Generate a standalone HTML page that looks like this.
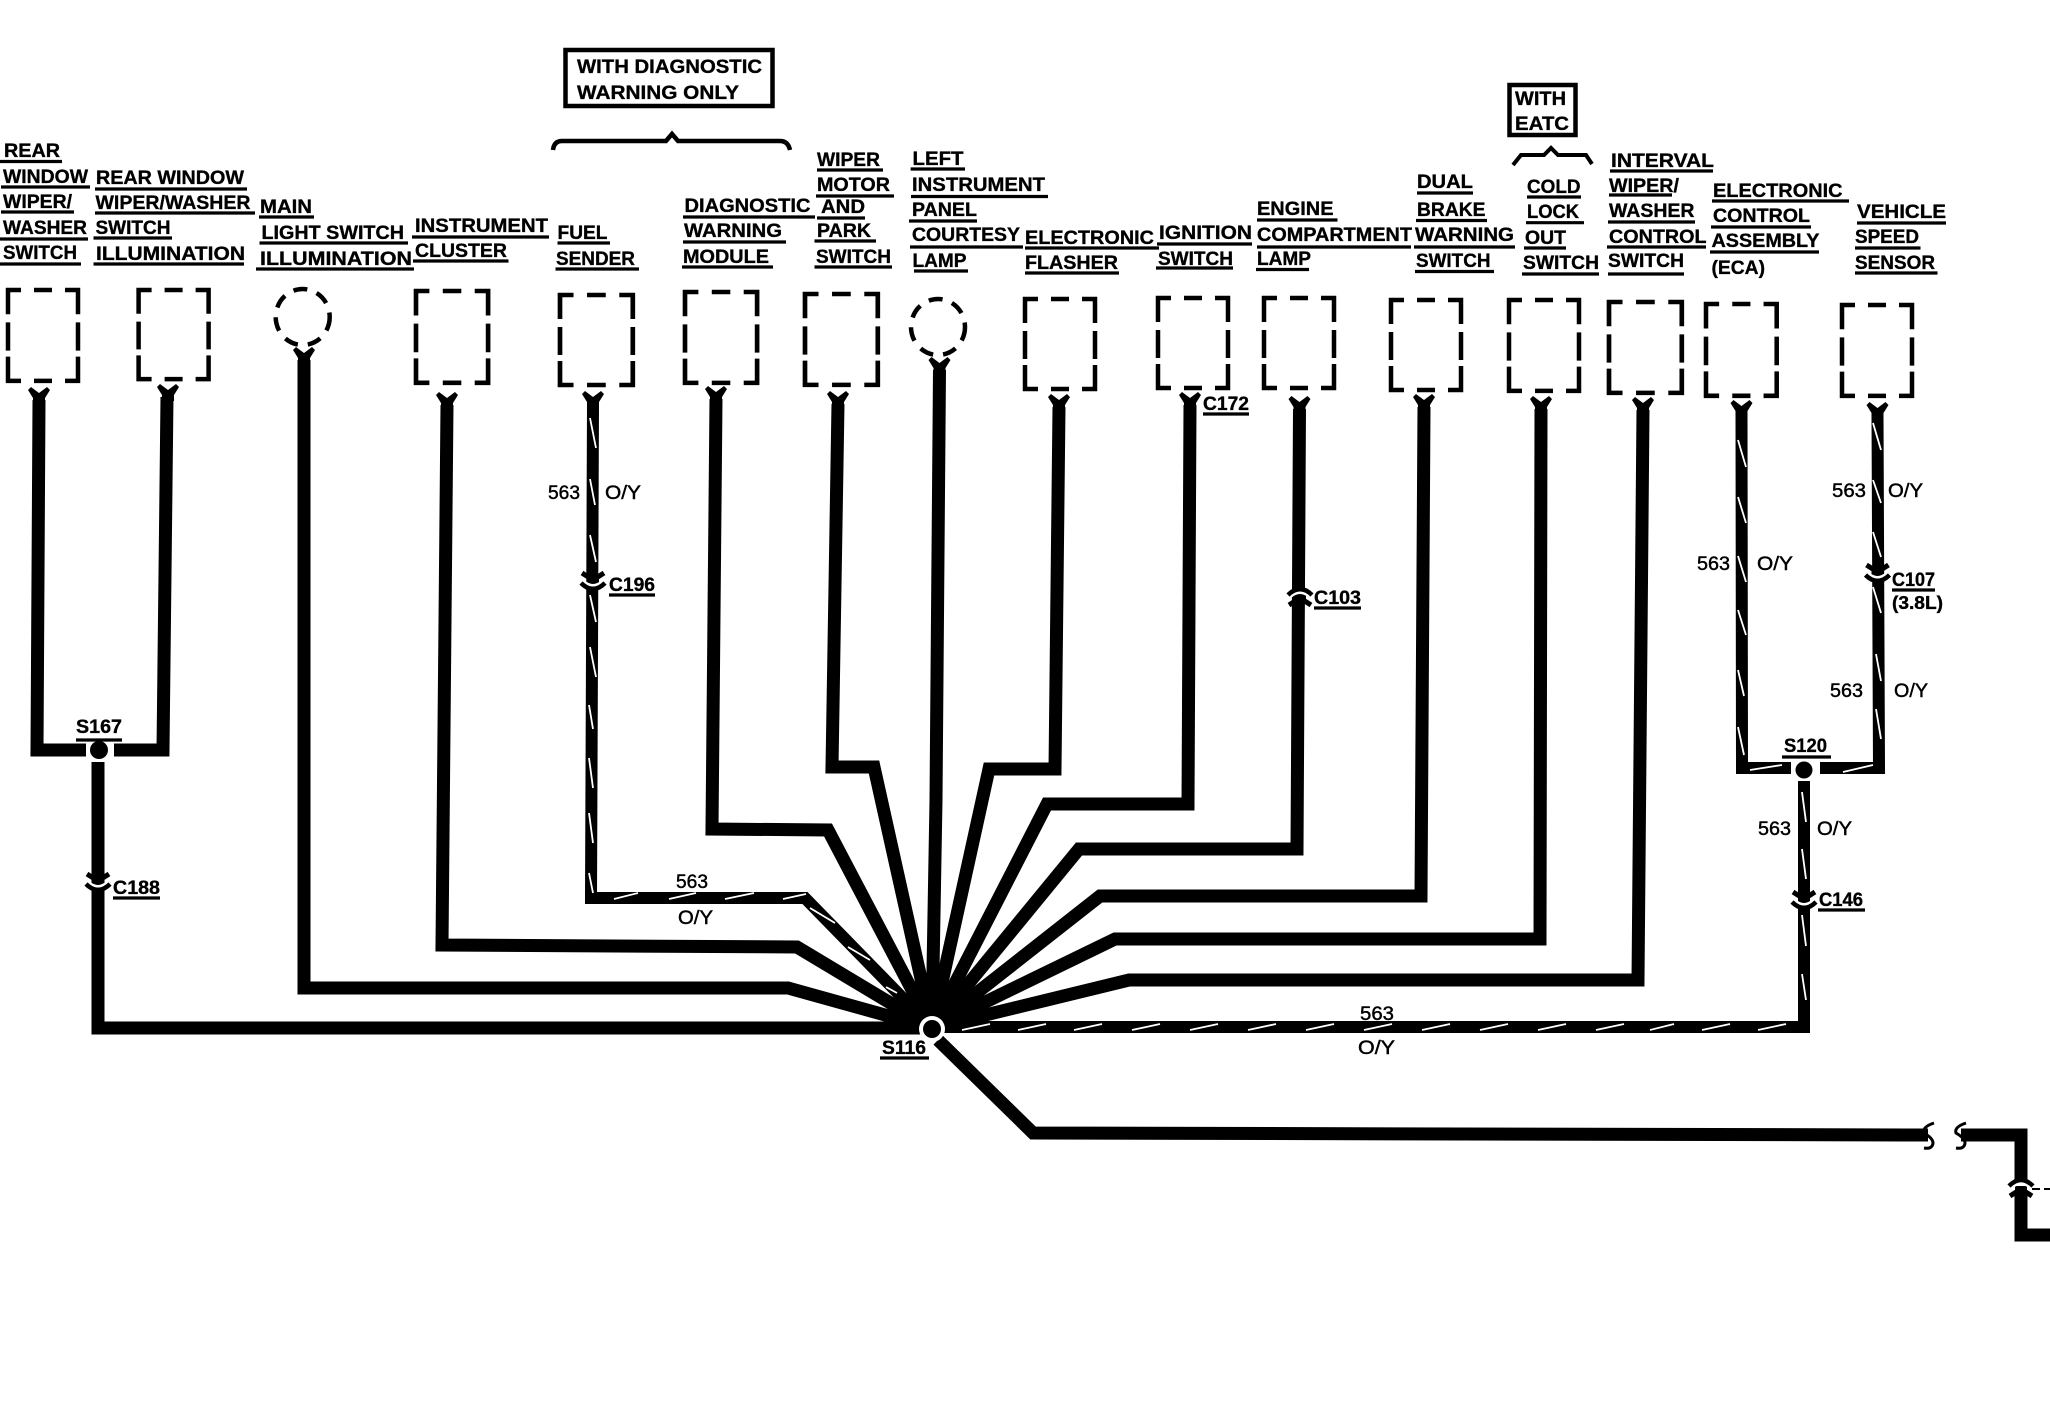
<!DOCTYPE html>
<html><head><meta charset="utf-8"><style>
html,body{margin:0;padding:0;background:#fff}
svg{display:block}
text{font-family:"Liberation Sans",sans-serif;font-weight:bold;font-size:19.5px;fill:#000;stroke:#000;stroke-width:.35px}
.r{font-weight:normal;font-size:19px;stroke:#000;stroke-width:.45px}
</style></head><body>
<svg width="2050" height="1408" viewBox="0 0 2050 1408" xmlns="http://www.w3.org/2000/svg">
<defs>
<path id="bx" d="M0 24V0H13M26 0H44M57 0H70V24M0 32V60M70 32V60M0 66V90H13M26 90H44M57 90H70V66" fill="none" stroke="#000" stroke-width="4.5"/>
<path id="yy" d="M-11 2L-8 -1L0 5L8 -1L11 2L6 10V16H-6V10Z" fill="#000"/>
<g id="cn"><path d="M-11 -10L0 -3L11 -10" fill="none" stroke="#000" stroke-width="5"/><path d="M-6 -4H6V0H-6Z" fill="#000"/><path d="M-9 -1.5Q0 6 9 -1.5" fill="none" stroke="#fff" stroke-width="2.5"/><path d="M-12 0Q0 12 12 0" fill="none" stroke="#000" stroke-width="4.5"/></g>
</defs>

<!-- dashed component boxes -->
<use href="#bx" transform="translate(8,290) scale(1,1.01)"/>
<use href="#bx" transform="translate(138.6,290) scale(1,.99)"/>
<ellipse cx="302.7" cy="317" rx="27" ry="28" fill="none" stroke="#000" stroke-width="4.5" stroke-dasharray="14 10"/>
<use href="#bx" transform="translate(416,291) scale(1.03,1.02)"/>
<use href="#bx" transform="translate(560,295) scale(1.04,1)"/>
<use href="#bx" transform="translate(685,292) scale(1.03,1.01)"/>
<use href="#bx" transform="translate(805,294) scale(1.04,1.01)"/>
<ellipse cx="938" cy="327" rx="27" ry="28" fill="none" stroke="#000" stroke-width="4.5" stroke-dasharray="14 10"/>
<use href="#bx" transform="translate(1025,299) scale(1,1)"/>
<use href="#bx" transform="translate(1158,298)"/>
<use href="#bx" transform="translate(1264,298)"/>
<use href="#bx" transform="translate(1391,300)"/>
<use href="#bx" transform="translate(1509,300) scale(1,1.01)"/>
<use href="#bx" transform="translate(1609,302) scale(1.04,1.01)"/>
<use href="#bx" transform="translate(1706,304) scale(1.01,1.02)"/>
<use href="#bx" transform="translate(1842,305) scale(1,1.01)"/>

<!-- Y connectors -->
<use href="#yy" x="39" y="388"/><use href="#yy" x="168" y="385"/><use href="#yy" x="304" y="348"/>
<use href="#yy" x="447" y="393"/><use href="#yy" x="593" y="392"/><use href="#yy" x="716" y="387"/>
<use href="#yy" x="838" y="392"/><use href="#yy" x="939.5" y="358"/><use href="#yy" x="1059" y="395"/>
<use href="#yy" x="1190" y="393"/><use href="#yy" x="1299.5" y="397"/><use href="#yy" x="1424" y="395"/>
<use href="#yy" x="1541" y="397"/><use href="#yy" x="1643" y="398"/><use href="#yy" x="1741.5" y="401"/>
<use href="#yy" x="1877.5" y="403"/>

<!-- wires -->
<g fill="none" stroke="#000" stroke-width="13" stroke-linejoin="miter">
<path d="M39 400L37 750H86"/>
<path d="M114 750H163L167 397"/>
<path d="M98 762V1028H932"/>
<path d="M304 360V988H788L932 1028"/>
<path d="M447 405L442 945L797 947L932 1028"/>
<path d="M716 399L712 829L828 830L932 1028"/>
<path d="M838 404L832 767H874L932 1028"/>
<path d="M939.5 370L936 800L932 1028"/>
<path d="M1059 407L1055 769H989L932 1028"/>
<path d="M1190 405L1188 804H1047L932 1028"/>
<path d="M1299.5 409L1297 849H1079L932 1028"/>
<path d="M1424 407L1421 896H1100L932 1028"/>
<path d="M1541 409L1540 939H1115L932 1028"/>
<path d="M1643 410L1638 980H1129L932 1028"/>
<path d="M938 1040L1033 1133L1928 1135"/>
<path d="M1961 1135H2021V1180"/>
<path d="M2021 1192V1235H2050"/>
</g>
<g fill="none" stroke="#000" stroke-width="12" stroke-linejoin="miter">
<path d="M593 404L591 898H805L932 1028"/>
<path d="M932 1027H1804V781"/>
<path d="M1741.5 412L1742 768H1791"/>
<path d="M1820 768H1879L1877.5 415"/>
</g>

<!-- white tracer stripes -->
<g fill="none" stroke="#fff" stroke-width="1.8">
<path d="M614 899l24 -6M669 899l27 -6M725 899l29 -6M783 899l23 -5"/>
<path d="M810 908l25 15M848 947l22 13M886 987l11 6"/>
<path d="M962 1030l28 -6M1018 1030l28 -6M1074 1030l28 -6M1132 1030l28 -6M1190 1030l28 -6M1248 1030l28 -6M1306 1030l28 -6M1364 1030l28 -6M1422 1030l28 -6M1480 1030l28 -6M1538 1030l28 -6M1596 1030l28 -6M1650 1030l24 -6M1702 1030l28 -6M1758 1030l28 -6"/>
<path d="M1750 770l32 -5M1843 772l30 -7"/>
<path d="M590 418l6 30M590 479l5 26M590 535l6 27M590 595l6 27M590 647l6 30M589 705l4 24M589 758l4 30M589 813l4 30M589 873l4 20"/>
<path d="M1738 440l8 27M1738 497l8 26M1738 556l8 26M1738 610l8 25M1738 670l6 26M1738 727l6 28"/>
<path d="M1873 423l8 27M1873 480l8 23M1873 532l8 25M1873 587l8 26M1876 654l5 27M1876 709l5 30"/>
<path d="M1802 792l4 30M1802 849l4 30M1802 915l4 31M1802 974l4 26"/>
</g>

<!-- hub and splices -->
<circle cx="932" cy="1029" r="13" fill="#fff"/>
<circle cx="932" cy="1029" r="9" fill="#000"/>
<circle cx="99" cy="750" r="9" fill="#000"/>
<circle cx="1804" cy="770" r="8.5" fill="#000"/>

<!-- inline connectors -->
<use href="#cn" transform="translate(98,884)"/>
<use href="#cn" transform="translate(593,583)"/>
<use href="#cn" transform="translate(1300,595) scale(1,-1)"/>
<use href="#cn" transform="translate(1877.5,575)"/>
<use href="#cn" transform="translate(1804,902)"/>
<use href="#cn" transform="translate(2021,1186) scale(1,-1)"/>
<path d="M2032 1189H2040M2044 1189H2050" stroke="#000" stroke-width="2" fill="none"/>

<!-- break marks -->
<path d="M1934 1123Q1922 1127 1924 1133Q1936 1140 1932 1146Q1930 1149 1924 1148" fill="none" stroke="#000" stroke-width="3"/>
<path d="M1966 1123Q1954 1127 1956 1133Q1968 1140 1964 1146Q1962 1149 1956 1148" fill="none" stroke="#000" stroke-width="3"/>

<!-- qualifier boxes and braces -->
<rect x="565.5" y="50" width="207" height="56" fill="none" stroke="#000" stroke-width="4.5"/>
<rect x="1509.5" y="85" width="66" height="50" fill="none" stroke="#000" stroke-width="4.5"/>
<path d="M553 150Q554 141 562 141H666L672 134L678 141H780Q788 141 790 150" fill="none" stroke="#000" stroke-width="4.5"/>
<path d="M1513 165L1521 155H1544L1551 148L1558 155H1586L1592 164" fill="none" stroke="#000" stroke-width="4"/>

<!-- underlines -->
<path stroke="#000" stroke-width="3.2" fill="none" d="M0 161.5H62M1 187H90M1 212H74M0 239H88M0 264H81M95 189H247M95 213H255M93.5 238H172M93.5 264H244M259 217H314M259.5 243H408M256 269H414M412 237H549M413 261H508.5M557.5 243H610M555.5 269H639M683 217H815M683 242H786M682 267H773M817 170H883M816 196H894M817 218H865M814.5 241H876M814.5 267H892M910.6 169H965M911 196.5H1048M909 221H977M910 247H1023M914 271H968M1025 248H1159M1025 273H1119M1157 244H1252M1156 268H1233M1257 220H1337.5M1257 247H1411M1256 269.5H1309M1417 193H1473M1416 220.5H1487M1414 247H1515M1415 271.5H1494M1527 197H1581M1526 222.7H1584M1524 248H1566M1522 274H1599M1610 171H1713M1609 195H1672M1608 222H1695M1607 247H1706M1608 274H1684M1712 201H1849M1711 227H1811M1710 252H1819M1857 223H1946M1855 248H1920.5M1855 273H1937.5M76 740H122M609 595H655M1203 414H1249M1314 608H1361M1892 590H1935M880 1058H929M1782 757H1831M113 898H160M1818 910H1865"/>

<!-- labels -->
<text x="577" y="73" textLength="185" lengthAdjust="spacingAndGlyphs">WITH DIAGNOSTIC</text>
<text x="577" y="99" textLength="162" lengthAdjust="spacingAndGlyphs">WARNING ONLY</text>
<text x="1515" y="105" textLength="51" lengthAdjust="spacingAndGlyphs">WITH</text>
<text x="1515" y="130" textLength="54" lengthAdjust="spacingAndGlyphs">EATC</text>

<text x="4" y="157" textLength="56" lengthAdjust="spacingAndGlyphs">REAR</text>
<text x="3" y="183" textLength="85" lengthAdjust="spacingAndGlyphs">WINDOW</text>
<text x="3" y="208" textLength="69" lengthAdjust="spacingAndGlyphs">WIPER/</text>
<text x="3" y="234" textLength="84" lengthAdjust="spacingAndGlyphs">WASHER</text>
<text x="3" y="259" textLength="74" lengthAdjust="spacingAndGlyphs">SWITCH</text>
<text x="96" y="184" textLength="148" lengthAdjust="spacingAndGlyphs">REAR WINDOW</text>
<text x="95.5" y="209" textLength="155" lengthAdjust="spacingAndGlyphs">WIPER/WASHER</text>
<text x="95.5" y="234" textLength="75" lengthAdjust="spacingAndGlyphs">SWITCH</text>
<text x="96" y="260" textLength="149" lengthAdjust="spacingAndGlyphs">ILLUMINATION</text>
<text x="260" y="213" textLength="52" lengthAdjust="spacingAndGlyphs">MAIN</text>
<text x="261.5" y="239" textLength="142.5" lengthAdjust="spacingAndGlyphs">LIGHT SWITCH</text>
<text x="260" y="265" textLength="152" lengthAdjust="spacingAndGlyphs">ILLUMINATION</text>
<text x="415" y="232" textLength="133" lengthAdjust="spacingAndGlyphs">INSTRUMENT</text>
<text x="415" y="257" textLength="92" lengthAdjust="spacingAndGlyphs">CLUSTER</text>
<text x="557.5" y="239" textLength="50" lengthAdjust="spacingAndGlyphs">FUEL</text>
<text x="556" y="265" textLength="79" lengthAdjust="spacingAndGlyphs">SENDER</text>
<text x="684.5" y="212" textLength="126" lengthAdjust="spacingAndGlyphs">DIAGNOSTIC</text>
<text x="684" y="237" textLength="98" lengthAdjust="spacingAndGlyphs">WARNING</text>
<text x="683" y="263" textLength="86" lengthAdjust="spacingAndGlyphs">MODULE</text>
<text x="817" y="166" textLength="63" lengthAdjust="spacingAndGlyphs">WIPER</text>
<text x="817" y="191" textLength="73" lengthAdjust="spacingAndGlyphs">MOTOR</text>
<text x="821" y="213" textLength="44" lengthAdjust="spacingAndGlyphs">AND</text>
<text x="817" y="237" textLength="54" lengthAdjust="spacingAndGlyphs">PARK</text>
<text x="816" y="263" textLength="75" lengthAdjust="spacingAndGlyphs">SWITCH</text>
<text x="912.5" y="165" textLength="51" lengthAdjust="spacingAndGlyphs">LEFT</text>
<text x="912" y="191" textLength="133" lengthAdjust="spacingAndGlyphs">INSTRUMENT</text>
<text x="912" y="216" textLength="65" lengthAdjust="spacingAndGlyphs">PANEL</text>
<text x="912" y="241" textLength="108" lengthAdjust="spacingAndGlyphs">COURTESY</text>
<text x="912.5" y="267" textLength="54" lengthAdjust="spacingAndGlyphs">LAMP</text>
<text x="1025" y="244" textLength="129" lengthAdjust="spacingAndGlyphs">ELECTRONIC</text>
<text x="1025" y="269" textLength="93" lengthAdjust="spacingAndGlyphs">FLASHER</text>
<text x="1159" y="239" textLength="93" lengthAdjust="spacingAndGlyphs">IGNITION</text>
<text x="1158" y="265" textLength="75" lengthAdjust="spacingAndGlyphs">SWITCH</text>
<text x="1257" y="215" textLength="76.5" lengthAdjust="spacingAndGlyphs">ENGINE</text>
<text x="1257" y="241" textLength="155" lengthAdjust="spacingAndGlyphs">COMPARTMENT</text>
<text x="1257" y="265" textLength="54" lengthAdjust="spacingAndGlyphs">LAMP</text>
<text x="1417" y="188" textLength="56" lengthAdjust="spacingAndGlyphs">DUAL</text>
<text x="1417" y="216" textLength="68.5" lengthAdjust="spacingAndGlyphs">BRAKE</text>
<text x="1415" y="241" textLength="99" lengthAdjust="spacingAndGlyphs">WARNING</text>
<text x="1416" y="267" textLength="74.5" lengthAdjust="spacingAndGlyphs">SWITCH</text>
<text x="1527" y="193" textLength="53.5" lengthAdjust="spacingAndGlyphs">COLD</text>
<text x="1527" y="218" textLength="52" lengthAdjust="spacingAndGlyphs">LOCK</text>
<text x="1525" y="244" textLength="41" lengthAdjust="spacingAndGlyphs">OUT</text>
<text x="1523" y="269" textLength="76" lengthAdjust="spacingAndGlyphs">SWITCH</text>
<text x="1611" y="167" textLength="103" lengthAdjust="spacingAndGlyphs">INTERVAL</text>
<text x="1609" y="192" textLength="70" lengthAdjust="spacingAndGlyphs">WIPER/</text>
<text x="1609" y="217" textLength="85.5" lengthAdjust="spacingAndGlyphs">WASHER</text>
<text x="1609" y="243" textLength="97.5" lengthAdjust="spacingAndGlyphs">CONTROL</text>
<text x="1608" y="267" textLength="76" lengthAdjust="spacingAndGlyphs">SWITCH</text>
<text x="1713" y="197" textLength="129.5" lengthAdjust="spacingAndGlyphs">ELECTRONIC</text>
<text x="1713" y="222" textLength="97" lengthAdjust="spacingAndGlyphs">CONTROL</text>
<text x="1711.5" y="247" textLength="108" lengthAdjust="spacingAndGlyphs">ASSEMBLY</text>
<text x="1711.5" y="274" textLength="53.5" lengthAdjust="spacingAndGlyphs">(ECA)</text>
<text x="1857" y="218" textLength="89" lengthAdjust="spacingAndGlyphs">VEHICLE</text>
<text x="1855" y="243" textLength="64" lengthAdjust="spacingAndGlyphs">SPEED</text>
<text x="1855" y="269" textLength="80" lengthAdjust="spacingAndGlyphs">SENSOR</text>

<!-- connector and splice labels -->
<text x="76" y="733" textLength="46" lengthAdjust="spacingAndGlyphs">S167</text>
<text x="113" y="894" textLength="47" lengthAdjust="spacingAndGlyphs">C188</text>
<text x="609" y="591" textLength="46" lengthAdjust="spacingAndGlyphs">C196</text>
<text x="1203" y="410" textLength="46" lengthAdjust="spacingAndGlyphs">C172</text>
<text x="1314" y="604" textLength="47" lengthAdjust="spacingAndGlyphs">C103</text>
<text x="1892" y="586" textLength="43" lengthAdjust="spacingAndGlyphs">C107</text>
<text x="1892" y="609" textLength="51" lengthAdjust="spacingAndGlyphs" style="font-size:18px">(3.8L)</text>
<text x="882" y="1054" textLength="44" lengthAdjust="spacingAndGlyphs">S116</text>
<text x="1784" y="752" textLength="43" lengthAdjust="spacingAndGlyphs">S120</text>
<text x="1819" y="906" textLength="44" lengthAdjust="spacingAndGlyphs">C146</text>

<!-- wire labels -->
<text class="r" x="548" y="499" textLength="32" lengthAdjust="spacingAndGlyphs">563</text>
<text class="r" x="605" y="499" textLength="36" lengthAdjust="spacingAndGlyphs">O/Y</text>
<text class="r" x="676" y="888" textLength="32" lengthAdjust="spacingAndGlyphs">563</text>
<text class="r" x="678" y="924" textLength="35" lengthAdjust="spacingAndGlyphs">O/Y</text>
<text class="r" x="1360" y="1020" textLength="34" lengthAdjust="spacingAndGlyphs">563</text>
<text class="r" x="1358" y="1054" textLength="37" lengthAdjust="spacingAndGlyphs">O/Y</text>
<text class="r" x="1832" y="497" textLength="34" lengthAdjust="spacingAndGlyphs">563</text>
<text class="r" x="1888" y="497" textLength="35" lengthAdjust="spacingAndGlyphs">O/Y</text>
<text class="r" x="1830" y="697" textLength="33" lengthAdjust="spacingAndGlyphs">563</text>
<text class="r" x="1894" y="697" textLength="34" lengthAdjust="spacingAndGlyphs">O/Y</text>
<text class="r" x="1697" y="570" textLength="33" lengthAdjust="spacingAndGlyphs">563</text>
<text class="r" x="1757" y="570" textLength="36" lengthAdjust="spacingAndGlyphs">O/Y</text>
<text class="r" x="1758" y="835" textLength="33" lengthAdjust="spacingAndGlyphs">563</text>
<text class="r" x="1817" y="835" textLength="35" lengthAdjust="spacingAndGlyphs">O/Y</text>
</svg>
</body></html>
